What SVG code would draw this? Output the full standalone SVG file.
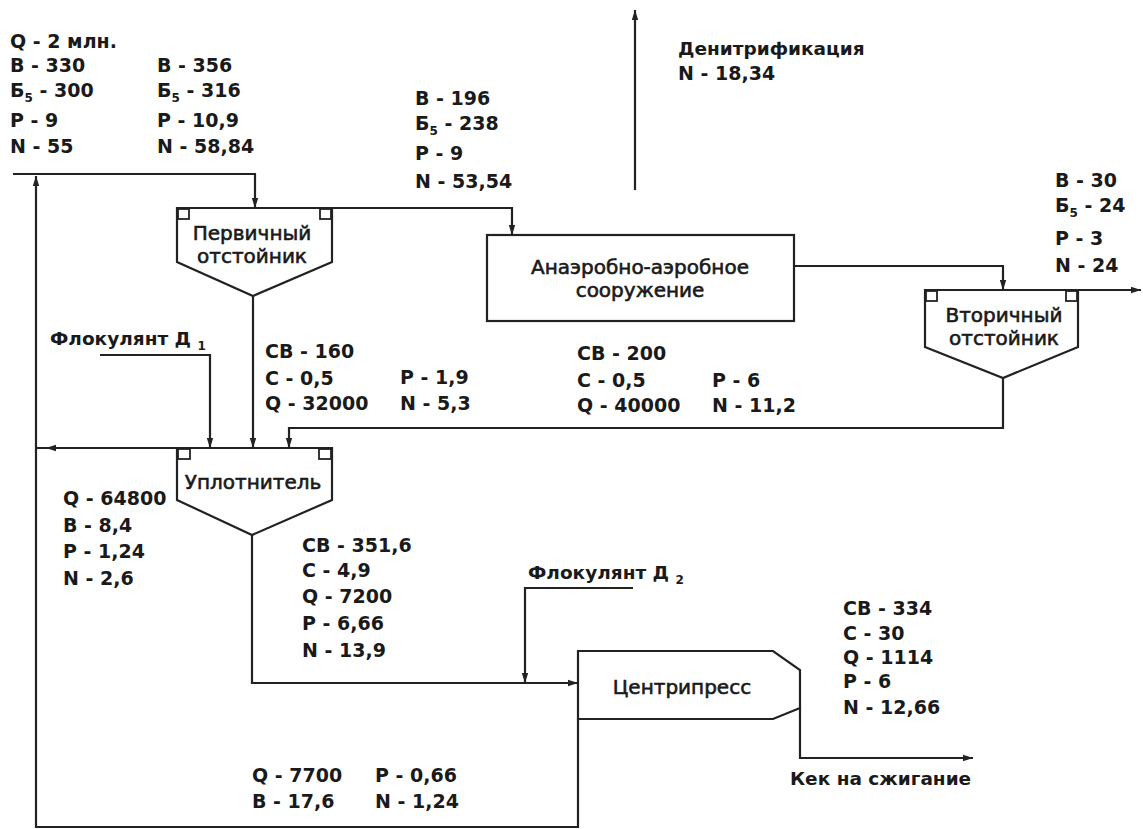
<svg xmlns="http://www.w3.org/2000/svg" width="1143" height="829" viewBox="0 0 1143 829">
<style>
.d{font-family:"DejaVu Sans","Liberation Sans",sans-serif;font-weight:bold;font-size:19px;fill:#1a1a1a}
.s{font-size:12px}
.w{font-family:"DejaVu Sans","Liberation Sans",sans-serif;font-weight:bold;font-size:18.5px;fill:#1a1a1a}
.n{font-family:"DejaVu Sans","Liberation Sans",sans-serif;font-size:20px;fill:#1a1a1a;stroke:#1a1a1a;stroke-width:0.6;text-anchor:middle}
.sh{fill:#fff;stroke:#222;stroke-width:2.2;stroke-linejoin:miter}
.cr{fill:#fff;stroke:#222;stroke-width:1.8}
.ln{fill:none;stroke:#222;stroke-width:2.2}
</style>
<defs>
<marker id="ah" viewBox="0 0 10 8" refX="10" refY="4" markerWidth="10" markerHeight="8" markerUnits="userSpaceOnUse" orient="auto"><path d="M0,0.8 L10,4 L0,7.2 z" fill="#222"/></marker>
</defs>
<rect width="1143" height="829" fill="#fff"/>

<g id="connectors">
<path class="ln" d="M13,174 H255 V208" marker-end="url(#ah)"/>
<path class="ln" d="M578,719 V827 H36 V176" marker-end="url(#ah)"/>
<path class="ln" d="M332,208 H512 V235" marker-end="url(#ah)"/>
<path class="ln" d="M794,266 H1003 V290" marker-end="url(#ah)"/>
<path class="ln" d="M1078,290 H1141" marker-end="url(#ah)"/>
<path class="ln" d="M635,190 V10" marker-end="url(#ah)"/>
<path class="ln" d="M253,296 V448" marker-end="url(#ah)"/>
<path class="ln" d="M1003,378 V428 H289 V448" marker-end="url(#ah)"/>
<path class="ln" d="M100,355 H210 V448" marker-end="url(#ah)"/>
<path class="ln" d="M177,448 H46 L36,448" marker-mid="url(#ah)"/>
<path class="ln" d="M252,535 V683 H578" marker-end="url(#ah)"/>
<path class="ln" d="M633,588 H525 V683" marker-end="url(#ah)"/>
<path class="ln" d="M800,708 V758 H973" marker-end="url(#ah)"/>
</g>

<g id="primary">
<polygon class="sh" points="177,208 332,208 332,262 253,296 177,262"/>
<rect class="cr" x="178" y="209" width="11" height="10"/>
<rect class="cr" x="320" y="209" width="11" height="10"/>
<text class="n" x="252" y="240">Первичный</text>
<text class="n" x="252" y="263">отстойник</text>
</g>

<g id="anaerobic">
<rect class="sh" x="487" y="235" width="307" height="86"/>
<text class="n" x="640" y="274">Анаэробно-аэробное</text>
<text class="n" x="640" y="297">сооружение</text>
</g>

<g id="secondary">
<polygon class="sh" points="925,290 1078,290 1078,347 1003,378 925,347"/>
<rect class="cr" x="926" y="291" width="11" height="10"/>
<rect class="cr" x="1066" y="291" width="11" height="10"/>
<text class="n" x="1004" y="322">Вторичный</text>
<text class="n" x="1004" y="345">отстойник</text>
</g>

<g id="thickener">
<polygon class="sh" points="177,448 332,448 332,500 252,535 177,500"/>
<rect class="cr" x="178" y="449" width="12" height="10"/>
<rect class="cr" x="319" y="449" width="12" height="10"/>
<text class="n" x="253" y="489">Уплотнитель</text>
</g>

<g id="centripress">
<polygon class="sh" points="578,651 773,651 800,670 800,708 773,719 578,719"/>
<text class="n" x="682" y="694">Центрипресс</text>
</g>

<g id="labels">
<text class="d" x="10" y="48">Q - 2 млн.</text>
<text class="d" x="10" y="72">В - 330</text>
<text class="d" x="10" y="97">Б<tspan class="s" dy="5">5</tspan><tspan dy="-5"> - 300</tspan></text>
<text class="d" x="10" y="127">P - 9</text>
<text class="d" x="10" y="153">N - 55</text>
<text class="d" x="157" y="72">В - 356</text>
<text class="d" x="157" y="97">Б<tspan class="s" dy="5">5</tspan><tspan dy="-5"> - 316</tspan></text>
<text class="d" x="157" y="127">P - 10,9</text>
<text class="d" x="157" y="153">N - 58,84</text>

<text class="d" x="415" y="105">В - 196</text>
<text class="d" x="415" y="130">Б<tspan class="s" dy="5">5</tspan><tspan dy="-5"> - 238</tspan></text>
<text class="d" x="415" y="160">P - 9</text>
<text class="d" x="415" y="188">N - 53,54</text>

<text class="w" x="678" y="55">Денитрификация</text>
<text class="d" x="678" y="80">N - 18,34</text>

<text class="d" x="1055" y="187">В - 30</text>
<text class="d" x="1055" y="212">Б<tspan class="s" dy="5">5</tspan><tspan dy="-5"> - 24</tspan></text>
<text class="d" x="1055" y="245">P - 3</text>
<text class="d" x="1055" y="272">N - 24</text>

<text class="d" x="265" y="358">СВ - 160</text>
<text class="d" x="265" y="385">С - 0,5</text>
<text class="d" x="265" y="410">Q - 32000</text>
<text class="d" x="400" y="384">P - 1,9</text>
<text class="d" x="400" y="410">N - 5,3</text>

<text class="d" x="577" y="360">СВ - 200</text>
<text class="d" x="577" y="387">С - 0,5</text>
<text class="d" x="577" y="412">Q - 40000</text>
<text class="d" x="712" y="387">P - 6</text>
<text class="d" x="712" y="412">N - 11,2</text>

<text class="w" x="50" y="345">Флокулянт Д <tspan class="s" dy="5">1</tspan></text>

<text class="d" x="63" y="505">Q - 64800</text>
<text class="d" x="63" y="532">В - 8,4</text>
<text class="d" x="63" y="558">P - 1,24</text>
<text class="d" x="63" y="585">N - 2,6</text>

<text class="d" x="302" y="552">СВ - 351,6</text>
<text class="d" x="302" y="577">С - 4,9</text>
<text class="d" x="302" y="603">Q - 7200</text>
<text class="d" x="302" y="630">P - 6,66</text>
<text class="d" x="302" y="657">N - 13,9</text>

<text class="w" x="528" y="579">Флокулянт Д <tspan class="s" dy="5">2</tspan></text>

<text class="d" x="843" y="615">СВ - 334</text>
<text class="d" x="843" y="640">С - 30</text>
<text class="d" x="843" y="664">Q - 1114</text>
<text class="d" x="843" y="688">P - 6</text>
<text class="d" x="843" y="714">N - 12,66</text>

<text class="d" x="252" y="782">Q - 7700</text>
<text class="d" x="252" y="808">В - 17,6</text>
<text class="d" x="375" y="782">P - 0,66</text>
<text class="d" x="375" y="808">N - 1,24</text>

<text class="w" x="790" y="785">Кек на сжигание</text>
</g>
</svg>
